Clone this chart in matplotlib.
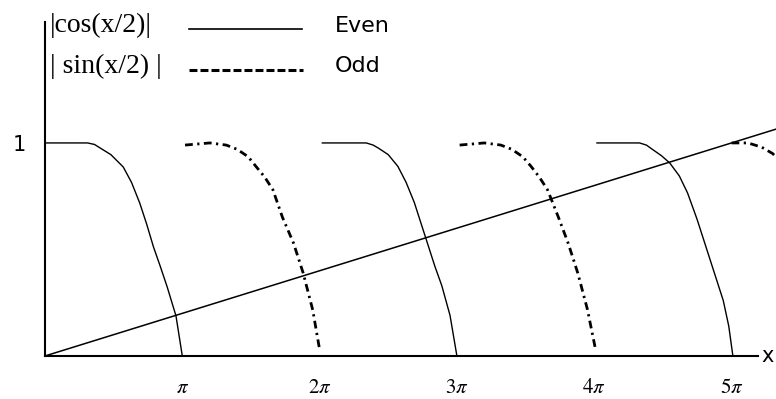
import numpy as np
import matplotlib
matplotlib.use('Agg')
from matplotlib import pyplot as plt
from matplotlib.lines import Line2D

plt.rcParams['font.family'] = ['DejaVu Sans']
plt.rcParams['mathtext.fontset'] = 'stix'

# x in units of pi
even1_x = [0.0, 0.31, 0.36, 0.40, 0.48, 0.57, 0.63, 0.69, 0.74, 0.79, 0.84, 0.89, 0.954, 1.0]
even1_y = [1.0, 1.0, 0.993, 0.977, 0.945, 0.887, 0.815, 0.718, 0.62, 0.512, 0.42, 0.324, 0.188, 0.0]
odd1_x = [1.02, 1.20, 1.32, 1.40, 1.48, 1.54, 1.60, 1.66, 1.73, 1.81, 1.88, 1.95, 2.0]
odd1_y = [0.99, 1.0, 0.99, 0.97, 0.935, 0.887, 0.84, 0.78, 0.65, 0.53, 0.39, 0.216, 0.03]
even2_x = [2.02, 2.34, 2.39, 2.43, 2.50, 2.57, 2.63, 2.69, 2.74, 2.79, 2.84, 2.89, 2.95, 3.0]
even2_y = [1.0, 1.0, 0.99, 0.975, 0.945, 0.89, 0.815, 0.72, 0.62, 0.52, 0.42, 0.33, 0.19, 0.0]
odd2_x = [3.02, 3.20, 3.32, 3.40, 3.48, 3.54, 3.60, 3.66, 3.74, 3.81, 3.88, 3.95, 4.01]
odd2_y = [0.99, 1.0, 0.99, 0.97, 0.935, 0.89, 0.84, 0.78, 0.65, 0.53, 0.39, 0.22, 0.03]
even3_x = [4.02, 4.33, 4.38, 4.43, 4.49, 4.55, 4.62, 4.68, 4.75, 4.82, 4.88, 4.94, 4.98, 5.01]
even3_y = [1.0, 1.0, 0.99, 0.967, 0.94, 0.906, 0.845, 0.765, 0.64, 0.50, 0.38, 0.26, 0.14, 0.0]
odd3_x = [5.0, 5.12, 5.22, 5.30, 5.33]
odd3_y = [1.0, 1.0, 0.98, 0.95, 0.93]
line_x = [0.0, 5.33]
line_y = [0.0, 1.066]

xticks = [1, 2, 3, 4, 5]
xtick_labels = [r'$\pi$', r'$2\pi$', r'$3\pi$', r'$4\pi$', r'$5\pi$']

W, H = 776, 399
fig = plt.figure(figsize=(W / 100, H / 100), dpi=100)
ax = fig.add_axes([0, 0, 1, 1])
ax.set_xlim(-0.3277, 5.324)
ax.set_ylim(-0.202, 1.671)

odd_style = (0, (2.8, 1.6, 0.8, 1.6))
for xs, ys in [(even1_x, even1_y), (even2_x, even2_y), (even3_x, even3_y)]:
    ax.plot(xs, ys, color='black', lw=1.0)
for xs, ys in [(odd1_x, odd1_y), (odd2_x, odd2_y), (odd3_x, odd3_y)]:
    ax.plot(xs, ys, color='black', lw=2.0, linestyle=odd_style)
ax.plot(line_x, line_y, color='black', lw=1.1)

for s in ['top', 'right']:
    ax.spines[s].set_visible(False)
ax.spines['left'].set_position(('data', 0))
ax.spines['bottom'].set_position(('data', 0))
ax.spines['left'].set_bounds(0, 1.57)
ax.spines['bottom'].set_bounds(0, 5.19)
ax.spines['left'].set_linewidth(1.5)
ax.spines['bottom'].set_linewidth(1.5)

ax.set_xticks(xticks)
ax.set_xticklabels(xtick_labels, fontsize=15)
ax.set_yticks([1])
ax.set_yticklabels(['1'], fontsize=15)
ax.tick_params(axis='x', length=0, pad=15)
ax.tick_params(axis='y', length=0, pad=14)
ax.patch.set_alpha(0)

# x label at the right end of the axis
fig.text(761 / W, 1 - 356 / H, 'x', fontsize=15, va='center', ha='left')

# legend drawn by hand
fig.text(50 / W, 1 - 25 / H, '|cos(x/2)|', family='Liberation Serif', fontsize=20, va='center')
fig.text(50 / W, 1 - 66 / H, '| sin(x/2) |', family='Liberation Serif', fontsize=20, va='center')
fig.add_artist(Line2D([189 / W, 302 / W], [1 - 29 / H] * 2, color='black', lw=1.2))
fig.add_artist(Line2D([189 / W, 303 / W], [1 - 70 / H] * 2, color='black', lw=2.2,
                      linestyle=(0, (2.6, 1.0))))
fig.text(335 / W, 1 - 26 / H, 'Even', fontsize=16, va='center')
fig.text(335 / W, 1 - 66 / H, 'Odd', fontsize=16, va='center')

fig.savefig('out.png', dpi=100)
